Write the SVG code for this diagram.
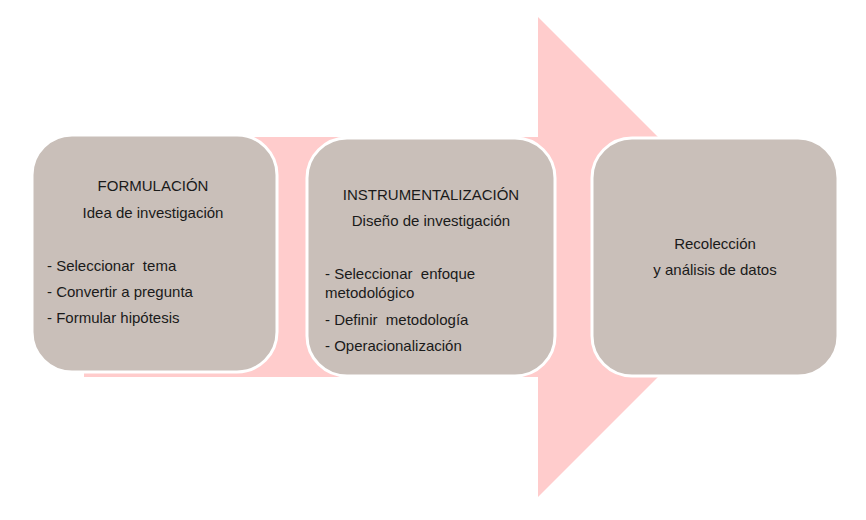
<svg xmlns="http://www.w3.org/2000/svg" width="866" height="520" viewBox="0 0 866 520">
<style>
.box{fill:#C9BFB9;stroke:#FFFFFF;stroke-width:3}
.t{font-family:"Liberation Sans",Arial,sans-serif;font-size:15px;fill:#1a1a1a;white-space:pre}
.c{text-anchor:middle}
</style>
<rect width="866" height="520" fill="#FFFFFF"/>
<g id="connectors">
<polygon points="84,137 538,137 538,17 778,257 538,497 538,377 84,377" fill="#FFCCCC"/>
</g>
<g id="node1">
<rect class="box" x="32" y="135" width="245" height="237" rx="40" ry="40"/>
<text class="t c" x="153" y="191">FORMULACIÓN</text>
<text class="t c" x="153" y="218">Idea de investigación</text>
<text class="t" x="47" y="271" xml:space="preserve">- Seleccionar  tema</text>
<text class="t" x="47" y="297">- Convertir a pregunta</text>
<text class="t" x="47" y="323">- Formular hipótesis</text>
</g>
<g id="node2">
<rect class="box" x="307" y="138" width="248" height="238" rx="40" ry="40"/>
<text class="t c" x="431" y="200">INSTRUMENTALIZACIÓN</text>
<text class="t c" x="431" y="226">Diseño de investigación</text>
<text class="t" x="325" y="279" xml:space="preserve">- Seleccionar  enfoque</text>
<text class="t" x="325" y="298">metodológico</text>
<text class="t" x="325" y="325" xml:space="preserve">- Definir  metodología</text>
<text class="t" x="325" y="351">- Operacionalización</text>
</g>
<g id="node3">
<rect class="box" x="592" y="138" width="246" height="238" rx="40" ry="40"/>
<text class="t c" x="715" y="249">Recolección</text>
<text class="t c" x="715" y="275">y análisis de datos</text>
</g>
</svg>
